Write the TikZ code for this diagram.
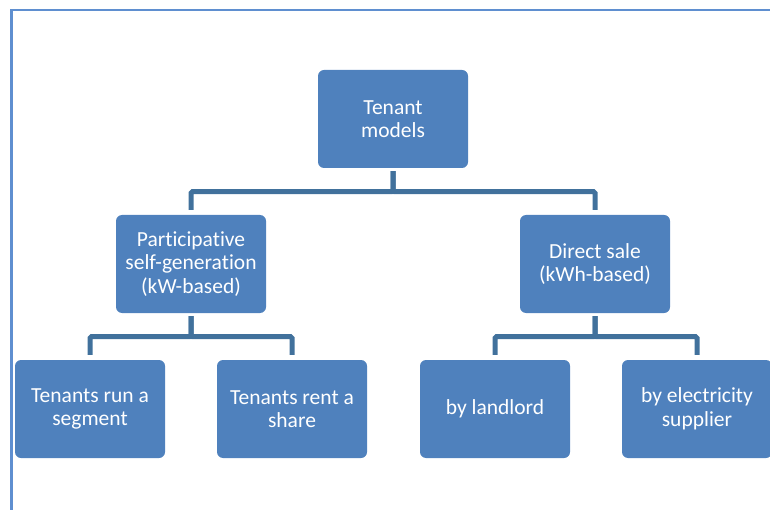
\documentclass[tikz,border=0pt]{standalone}
\usepackage{fontspec}
\setmainfont{Carlito}[Ligatures=NoCommon]
\usetikzlibrary{calc}

\definecolor{boxblue}{HTML}{4F81BD}
\definecolor{linkblue}{HTML}{41719C}
\definecolor{frameblue}{HTML}{5F8FD0}

\begin{document}
\begin{tikzpicture}[
  x=1pt, y=-1pt,
  every node/.style = {shape=rectangle, rounded corners=6pt, fill=boxblue, text=white,
                       minimum width=150pt, minimum height=98pt, align=center,
                       font=\fontsize{21.5}{23.5}\selectfont},
  link/.style = {draw=linkblue, line width=5pt, rounded corners=1.5pt,
                 shorten <=3pt, shorten >=5pt},
  fork/.style = {to path={-- ++(0,-23.5pt) -| (\tikztotarget)}}
]
  \useasboundingbox (0,0) rectangle (770,510);
  \draw[frameblue, line width=2.5pt] (11.5,512) -- (11.5,10) -- (772,10);

  \node (tm) at (393,119) {Tenant\\models};
  \node (psg) at (191,264) {Participative\\self-generation\\(kW-based)};
  \node (ds) at (595,264) {Direct sale\\(kWh-based)};
  \node (seg) at (90,409) {Tenants run a\\segment};
  \node (share) at (292,409) {Tenants rent a\\share};
  \node (landlord) at (495,409) {by landlord};
  \node (supplier) at (697,409) {by electricity\\supplier};

  \draw[link] (tm.south) to[fork] (psg.north);
  \draw[link] (tm.south) to[fork] (ds.north);
  \draw[link] (psg.south) to[fork] (seg.north);
  \draw[link] (psg.south) to[fork] (share.north);
  \draw[link] (ds.south) to[fork] (landlord.north);
  \draw[link] (ds.south) to[fork] (supplier.north);
\end{tikzpicture}
\end{document}
